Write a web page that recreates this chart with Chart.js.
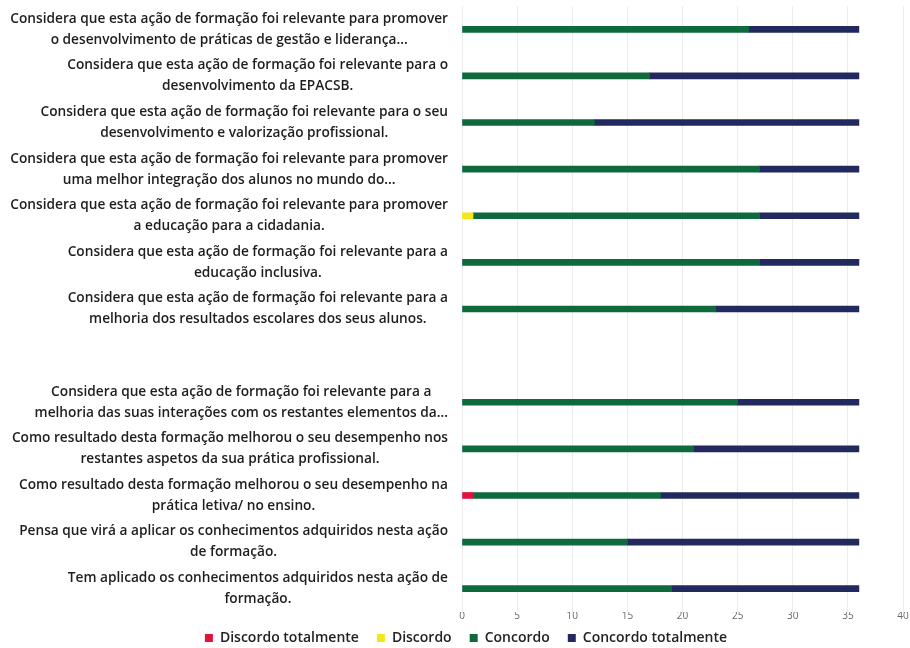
<!DOCTYPE html>
<html>
<head>
<meta charset="utf-8">
<script src="https://cdn.jsdelivr.net/npm/chart.js@4/dist/chart.umd.min.js"></script>
<style>
  html, body { margin: 0; padding: 0; background: #fff; }
  #wrap { width: 910px; height: 648px; }
</style>
</head>
<body>
<div id="wrap"><canvas id="chart" width="910" height="648"></canvas></div>
<script>
// categories (one blank slot between the 7th and 8th question, as in the source)
const categories = [
    ["Considera que esta ação de formação foi relevante para promover", "o desenvolvimento de práticas de gestão e liderança..."],
    ["Considera que esta ação de formação foi relevante para o", "desenvolvimento da EPACSB."],
    ["Considera que esta ação de formação foi relevante para o seu", "desenvolvimento e valorização profissional."],
    ["Considera que esta ação de formação foi relevante para promover", "uma melhor integração dos alunos no mundo do..."],
    ["Considera que esta ação de formação foi relevante para promover", "a educação para a cidadania."],
    ["Considera que esta ação de formação foi relevante para a", "educação inclusiva."],
    ["Considera que esta ação de formação foi relevante para a", "melhoria dos resultados escolares dos seus alunos."],
    [""],
    ["Considera que esta ação de formação foi relevante para a", "melhoria das suas interações com os restantes elementos da..."],
    ["Como resultado desta formação melhorou o seu desempenho nos", "restantes aspetos da sua prática profissional."],
    ["Como resultado desta formação melhorou o seu desempenho na", "prática letiva/ no ensino."],
    ["Pensa que virá a aplicar os conhecimentos adquiridos nesta ação", "de formação."],
    ["Tem aplicado os conhecimentos adquiridos nesta ação de", "formação."],
];

// null = no answers in that class
const discordoTotalmente = [null, null, null, null, null, null, null, null, null, null, 1, null, null];
const discordo = [null, null, null, null, 1, null, null, null, null, null, null, null, null];
const concordo = [26, 17, 12, 27, 26, 27, 23, null, 25, 21, 17, 15, 19];
const concordoTotalmente = [10, 19, 24, 9, 9, 9, 13, null, 11, 15, 18, 21, 17];

const xTicks = [0, 5, 10, 15, 20, 25, 30, 35, 40];

const LABEL_FONT = "600 13.7px 'Open Sans'";
const LABEL_RIGHT = 448;
const LABEL_LINE = 21;

// draws the question labels: block right-aligned, lines centred inside the block
const categoryLabels = {
    id: "categoryLabels",
    afterDraw(chart) {
        const ctx = chart.ctx;
        const y = chart.scales.y;
        ctx.save();
        ctx.font = LABEL_FONT;
        ctx.fillStyle = "#1e1e1e";
        ctx.textAlign = "center";
        ctx.textBaseline = "middle";
        categories.forEach((lines, i) => {
            const maxW = Math.max(...lines.map((l) => ctx.measureText(l).width));
            const cx = LABEL_RIGHT - maxW / 2;
            const cy = y.getPixelForValue(i);
            lines.forEach((line, j) => {
                ctx.fillText(line, cx, cy + (j - (lines.length - 1) / 2) * LABEL_LINE);
            });
        });
        ctx.restore();
    },
};

const barThickness = 6;
const PAD_LEFT = 29;
const LEGEND_GAP = 7;

new Chart(document.getElementById("chart"), {
    type: "bar",
    data: {
        labels: categories.map((c) => c.join(" ")),
        datasets: [
            { label: "Discordo totalmente", data: discordoTotalmente, backgroundColor: "#e0123f", barThickness },
            { label: "Discordo", data: discordo, backgroundColor: "#f5e61c", barThickness },
            { label: "Concordo", data: concordo, backgroundColor: "#0e6a3c", barThickness },
            { label: "Concordo totalmente", data: concordoTotalmente, backgroundColor: "#21295e", barThickness },
        ],
    },
    options: {
        responsive: false,
        animation: false,
        indexAxis: "y",
        layout: { padding: { left: PAD_LEFT, right: 7, top: 6, bottom: -LEGEND_GAP } },
        plugins: {
            tooltip: { enabled: false },
            legend: {
                position: "bottom",
                labels: {
                    boxWidth: 8,
                    boxHeight: 8,
                    padding: 4,
                    color: "#222",
                    font: { family: "Open Sans", size: 14, weight: "600" },
                    // widen the gap between items without growing the legend height
                    generateLabels: (chart) => {
                        const items = Chart.defaults.plugins.legend.labels.generateLabels(chart);
                        items.forEach((item, i) => {
                            if (i < items.length - 1) item.text += "\u2002\u2002";
                        });
                        return items;
                    },
                },
            },
        },
        scales: {
            x: {
                stacked: true,
                min: 0,
                max: 40,
                afterBuildTicks: (scale) => {
                    scale.ticks = xTicks.map((v) => ({ value: v }));
                },
                afterFit: (scale) => {
                    scale.height += LEGEND_GAP;
                },
                grid: { color: "#ececec", drawTicks: false },
                border: { display: false },
                ticks: {
                    padding: -2,
                    color: "#666",
                    font: { family: "Open Sans", size: 10 },
                },
            },
            y: {
                stacked: true,
                grid: { display: false },
                border: { display: false },
                ticks: { display: false },
                afterFit: (scale) => {
                    scale.width = 462 - PAD_LEFT;
                },
            },
        },
    },
    plugins: [categoryLabels],
});
</script>
</body>
</html>
